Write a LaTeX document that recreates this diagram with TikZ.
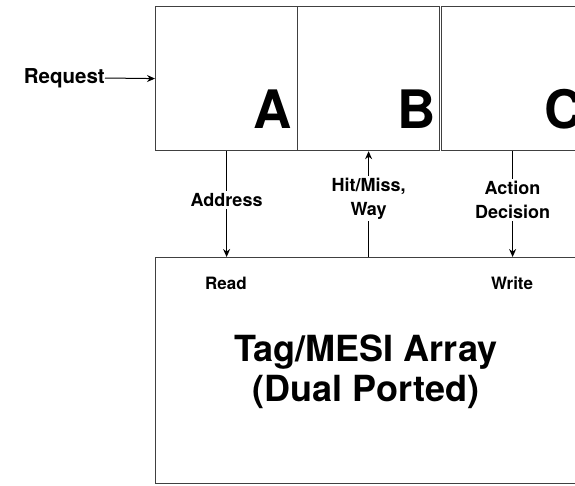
\documentclass[tikz,border=0pt]{standalone}
\usepackage{fontspec}
\setmainfont{TeX Gyre Heros}
\usetikzlibrary{arrows.meta}
\begin{document}
\begin{tikzpicture}[x=1pt,y=-1pt,
  frame/.style={draw=black!75,line width=1.2pt},
  cell/.style={frame,minimum width=142pt,minimum height=144pt,inner sep=0pt,anchor=north west},
  bigletter/.style={font=\bfseries\fontsize{53}{53}\selectfont,inner sep=0pt},
  sig/.style={draw=black,line width=1pt,-{Stealth[length=8pt,width=7pt]}},
  siglabel/.style={fill=white,font=\bfseries\fontsize{18}{24}\selectfont,align=center,inner sep=2pt},
  portlabel/.style={font=\bfseries\fontsize{17}{18}\selectfont,inner sep=0pt}]
\clip (0,0) rectangle (575,485);
% pipeline stages
\node[cell] (cellA) at (155,6) {};
\node[cell] (cellB) at (297,6) {};
\node[cell] (cellC) at (441,6) {};
\node[bigletter,anchor=base east] (letA) at (292,128) {A};
\node[bigletter,anchor=base east] (letB) at (436,128) {B};
\node[bigletter,anchor=base west] (letC) at (544,128) {C};
% incoming request
\node[font=\bfseries\fontsize{20.5}{20}\selectfont,anchor=east,inner sep=0pt] (req) at (105,78) {Request};
\draw[sig] (req.east) -- (cellA.west);
% tag array
\node[frame,minimum width=440pt,minimum height=226pt,inner sep=0pt,anchor=north west] (tag) at (155,257) {};
\node[font=\bfseries\fontsize{36}{40}\selectfont,align=center] (tagtext) at (366,372) {Tag/MESI Array\\(Dual Ported)};
\node[portlabel] (rd) at (226,283) {Read};
\node[portlabel] (wr) at (512,283) {Write};
% signals between stages and tag array
\coordinate (aIn) at (tag.north -| cellA.south);
\coordinate (bOut) at (tag.north -| cellB.south);
\coordinate (cIn) at (tag.north -| cellC.south);
\draw[sig] (cellA.south) -- node[siglabel,pos=0.46] (addr) {Address} (aIn);
\draw[sig] (bOut) -- node[siglabel,pos=0.55] (hit) {Hit/Miss,\\Way} (cellB.south);
\draw[sig] (cellC.south) -- node[siglabel,pos=0.46] (act) {Action\\Decision} (cIn);
\end{tikzpicture}
\end{document}
